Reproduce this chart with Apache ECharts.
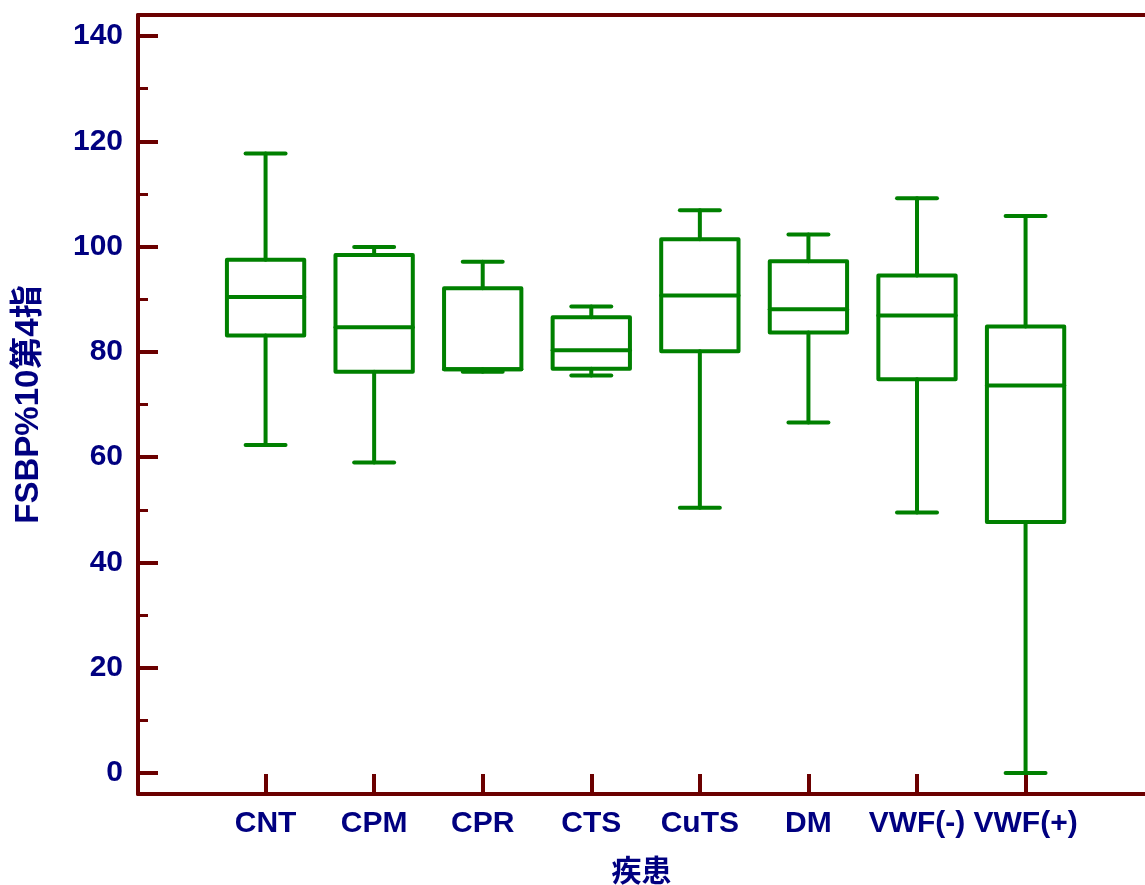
<!DOCTYPE html>
<html>
<head>
<meta charset="utf-8">
<script src="https://cdn.jsdelivr.net/npm/echarts@6/dist/echarts.min.js"></script>
<style>
  html, body { margin: 0; padding: 0; background: #fff; }
  #chart { width: 1145px; height: 885px; }
</style>
</head>
<body>
<div id="chart"></div>
<script>
// 疾患カテゴリ
const categories = ["CNT", "CPM", "CPR", "CTS", "CuTS", "DM", "VWF(-)", "VWF(+)"];
// 箱ひげ図の値 (最小, Q1, 中央値, Q3, 最大)
const minValues = [62.3, 59.0, 76.2, 75.5, 50.4, 66.6, 49.5, 0];
const q1Values = [83.1, 76.2, 76.7, 76.8, 80.1, 83.7, 74.8, 47.7];
const medianValues = [90.4, 84.7, 76.7, 80.3, 90.7, 88.1, 86.9, 73.6];
const q3Values = [97.5, 98.4, 92.1, 86.6, 101.4, 97.2, 94.5, 84.8];
const maxValues = [117.7, 99.9, 97.1, 88.6, 106.9, 102.3, 109.2, 105.8];
const majorTicks = [0, 20, 40, 60, 80, 100, 120, 140];
const minorTicks = [10, 30, 50, 70, 90, 110, 130];

const axisColor = "#6b0000";
const textColor = "#000080";
const boxColor = "#008000";
const fontFamily = "'Liberation Sans', Arial, 'Noto Sans CJK JP', sans-serif";

const catPos = categories.map((c, i) => i + 1);
const boxData = categories.map((c, i) => [
  i + 1, minValues[i], q1Values[i], medianValues[i], q3Values[i], maxValues[i]
]);

const chart = echarts.init(document.getElementById("chart"));

function renderBox(params, api) {
  const x = api.value(0);
  const unit = api.size([1, 0])[0];
  const hb = unit * 0.356; // 箱の半幅
  const hc = unit * 0.184; // ひげの端の半幅
  const pMin = api.coord([x, api.value(1)]);
  const pQ1 = api.coord([x, api.value(2)]);
  const pMed = api.coord([x, api.value(3)]);
  const pQ3 = api.coord([x, api.value(4)]);
  const pMax = api.coord([x, api.value(5)]);
  const cx = pMin[0];
  const st = { stroke: boxColor, lineWidth: 4, fill: null, lineCap: "round", lineJoin: "round" };
  const line = (x1, y1, x2, y2) => ({ type: "line", shape: { x1, y1, x2, y2 }, style: st });
  return {
    type: "group",
    children: [
      line(cx, pMax[1], cx, pQ3[1]),
      line(cx, pQ1[1], cx, pMin[1]),
      line(cx - hc, pMax[1], cx + hc, pMax[1]),
      line(cx - hc, pMin[1], cx + hc, pMin[1]),
      {
        type: "rect",
        shape: { x: cx - hb, y: pQ3[1], width: hb * 2, height: pQ1[1] - pQ3[1] },
        style: st
      },
      line(cx - hb, pMed[1], cx + hb, pMed[1])
    ]
  };
}

const labelStyle = {
  color: textColor,
  fontWeight: "bold",
  fontSize: 30,
  fontFamily: fontFamily
};

const option = {
  backgroundColor: "#fff",
  animation: false,
  grid: { left: 138, right: 0, top: 15, bottom: 91, outerBoundsMode: "none" },
  xAxis: [
    {
      type: "value",
      min: -0.175,
      max: 9.1,
      position: "bottom",
      splitLine: { show: false },
      axisLine: { show: true, onZero: false, lineStyle: { color: axisColor, width: 4 } },
      axisTick: {
        show: true,
        inside: true,
        length: 20,
        customValues: catPos,
        lineStyle: { color: axisColor, width: 4 }
      },
      axisLabel: Object.assign({
        customValues: catPos,
        formatter: (v) => categories[Math.round(v) - 1] || "",
        margin: 15
      }, labelStyle),
      name: "疾患",
      nameLocation: "middle",
      nameGap: 64,
      nameTextStyle: labelStyle
    },
    {
      type: "value",
      min: -0.175,
      max: 9.1,
      position: "top",
      splitLine: { show: false },
      axisLine: { show: true, onZero: false, lineStyle: { color: axisColor, width: 4 } },
      axisTick: { show: false },
      axisLabel: { show: false }
    }
  ],
  yAxis: [
    {
      type: "value",
      min: -4,
      max: 144,
      position: "left",
      splitLine: { show: false },
      axisLine: { show: true, onZero: false, lineStyle: { color: axisColor, width: 4 } },
      axisTick: {
        show: true,
        inside: true,
        length: 20,
        customValues: majorTicks,
        lineStyle: { color: axisColor, width: 4 }
      },
      axisLabel: Object.assign({
        customValues: majorTicks,
        margin: 15
      }, labelStyle),
      name: "FSBP%10第4指",
      nameLocation: "middle",
      nameGap: 93,
      nameTextStyle: Object.assign({}, labelStyle, { fontSize: 33 })
    },
    {
      type: "value",
      min: -4,
      max: 144,
      position: "left",
      splitLine: { show: false },
      axisLine: { show: false, onZero: false },
      axisTick: {
        show: true,
        inside: true,
        length: 10,
        customValues: minorTicks,
        lineStyle: { color: axisColor, width: 3 }
      },
      axisLabel: { show: false }
    }
  ],
  series: [
    {
      type: "custom",
      xAxisIndex: 0,
      yAxisIndex: 0,
      renderItem: renderBox,
      encode: { x: 0, y: [1, 2, 3, 4, 5] },
      data: boxData,
      clip: false
    }
  ]
};

chart.setOption(option);
</script>
</body>
</html>
